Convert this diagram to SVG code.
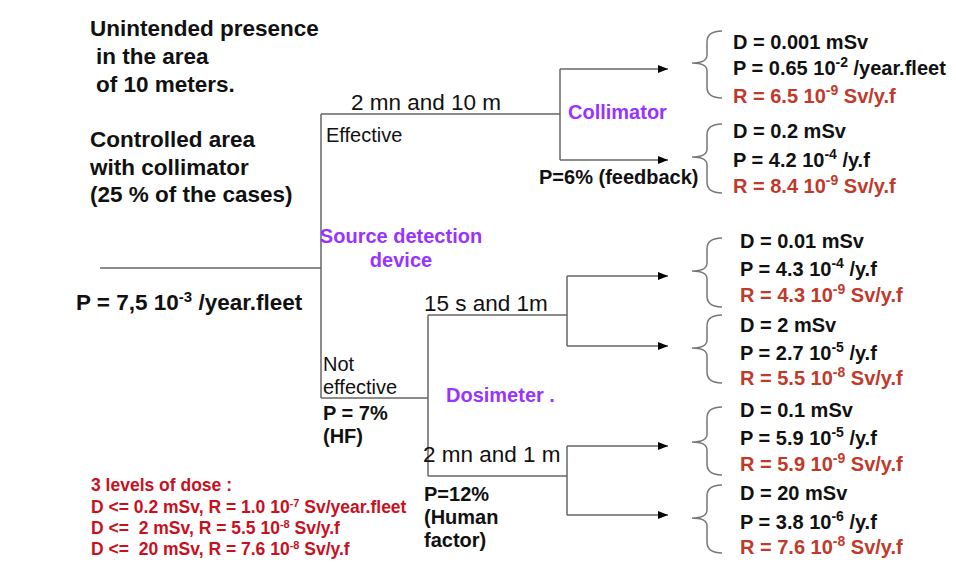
<svg xmlns="http://www.w3.org/2000/svg" width="956" height="563" viewBox="0 0 956 563">
<style>
text{font-family:"Liberation Sans",Arial,Helvetica,sans-serif;fill:#111}
.b{font-weight:bold}
.lg{font-size:22.5px}
.md{font-size:20px}
.sm{font-size:17.5px}
.red{fill:#C0392B}
.dred{fill:#C8101E}
.pur{fill:#9933FF}
.ln{stroke:#666;stroke-width:1.5;fill:none}
.br{stroke:#777;stroke-width:1.5;fill:none}
</style>
<defs>
<marker id="ah" viewBox="0 0 10 10" refX="10" refY="5" markerWidth="10" markerHeight="10" markerUnits="userSpaceOnUse" orient="auto">
<path d="M0,1 L10,5 L0,9 Z" fill="#000"/>
</marker>
</defs>
<rect width="956" height="563" fill="#fff"/>

<g id="connectors">
<path class="ln" d="M100,268 H321"/>
<path class="ln" d="M321,114 V398"/>
<path class="ln" d="M321,114 H560"/>
<path class="ln" d="M560,69 V160"/>
<path class="ln" d="M560,69 H668" marker-end="url(#ah)"/>
<path class="ln" d="M560,160 H668" marker-end="url(#ah)"/>
<path class="ln" d="M321,398 H428"/>
<path class="ln" d="M428,315 V476"/>
<path class="ln" d="M428,315 H567"/>
<path class="ln" d="M428,476 H567"/>
<path class="ln" d="M567,276 V346"/>
<path class="ln" d="M567,446 V515"/>
<path class="ln" d="M567,276 H668" marker-end="url(#ah)"/>
<path class="ln" d="M567,346 H668" marker-end="url(#ah)"/>
<path class="ln" d="M567,446 H668" marker-end="url(#ah)"/>
<path class="ln" d="M567,515 H668" marker-end="url(#ah)"/>
</g>

<g id="title">
<text class="b lg" x="90" y="36">Unintended presence</text>
<text class="b lg" x="96" y="64">in the area</text>
<text class="b lg" x="96" y="92">of 10 meters.</text>
</g>

<g id="scenario">
<text class="b lg" x="90" y="147">Controlled area</text>
<text class="b lg" x="90" y="175">with collimator</text>
<text class="b lg" x="90" y="202">(25 % of the cases)</text>
</g>

<g id="root">
<text class="b lg" x="76" y="310">P = 7,5 10<tspan font-size="15" dy="-8">-3</tspan><tspan dy="8"> /year.fleet</tspan></text>
</g>

<g id="source-detection">
<text class="b md pur" x="401" y="243" text-anchor="middle">Source detection</text>
<text class="b md pur" x="401" y="267" text-anchor="middle">device</text>
<text class="md" x="326" y="142">Effective</text>
<text class="lg" x="351" y="110">2 mn and 10 m</text>
<text class="md" x="323" y="371">Not</text>
<text class="md" x="323" y="394">effective</text>
<text class="b md" x="323" y="420">P = 7%</text>
<text class="b md" x="323" y="443">(HF)</text>
</g>

<g id="collimator">
<text class="b md pur" x="568" y="119">Collimator</text>
<text class="b md" x="539" y="184">P=6% (feedback)</text>
</g>

<g id="dosimeter">
<text class="b md pur" x="446" y="402">Dosimeter .</text>
<text class="lg" x="424" y="311">15 s and 1m</text>
<text class="lg" x="423" y="462">2 mn and 1 m</text>
<text class="b md" x="424" y="501">P=12%</text>
<text class="b md" x="424" y="524">(Human</text>
<text class="b md" x="424" y="547">factor)</text>
</g>

<g id="outcome1">
<path class="br" d="M722,31 Q707,31 707,42 V55 Q707,63 692,63 Q707,63 707,71 V87 Q707,98 722,98"/>
<text class="b md" x="733" y="49">D = 0.001 mSv</text>
<text class="b md" x="733" y="75">P = 0.65 10<tspan font-size="14" dy="-8">-2</tspan><tspan dy="8"> /year.fleet</tspan></text>
<text class="b md red" x="733" y="103">R = 6.5 10<tspan font-size="14" dy="-8">-9</tspan><tspan dy="8"> Sv/y.f</tspan></text>
</g>

<g id="outcome2">
<path class="br" d="M722,124 Q707,124 707,135 V149 Q707,157 692,157 Q707,157 707,165 V182 Q707,193 722,193"/>
<text class="b md" x="733" y="138">D = 0.2 mSv</text>
<text class="b md" x="733" y="167">P = 4.2 10<tspan font-size="14" dy="-8">-4</tspan><tspan dy="8"> /y.f</tspan></text>
<text class="b md red" x="733" y="193">R = 8.4 10<tspan font-size="14" dy="-8">-9</tspan><tspan dy="8"> Sv/y.f</tspan></text>
</g>

<g id="outcome3">
<path class="br" d="M722,238 Q707,238 707,249 V263 Q707,271 692,271 Q707,271 707,279 V296 Q707,307 722,307"/>
<text class="b md" x="740" y="248">D = 0.01 mSv</text>
<text class="b md" x="740" y="276">P = 4.3 10<tspan font-size="14" dy="-8">-4</tspan><tspan dy="8"> /y.f</tspan></text>
<text class="b md red" x="740" y="302">R = 4.3 10<tspan font-size="14" dy="-8">-9</tspan><tspan dy="8"> Sv/y.f</tspan></text>
</g>

<g id="outcome4">
<path class="br" d="M722,315 Q707,315 707,326 V340 Q707,348 692,348 Q707,348 707,356 V372 Q707,383 722,383"/>
<text class="b md" x="740" y="332">D = 2 mSv</text>
<text class="b md" x="740" y="360">P = 2.7 10<tspan font-size="14" dy="-8">-5</tspan><tspan dy="8"> /y.f</tspan></text>
<text class="b md red" x="740" y="385">R = 5.5 10<tspan font-size="14" dy="-8">-8</tspan><tspan dy="8"> Sv/y.f</tspan></text>
</g>

<g id="outcome5">
<path class="br" d="M722,407 Q707,407 707,418 V434 Q707,442 692,442 Q707,442 707,450 V464 Q707,475 722,475"/>
<text class="b md" x="740" y="417">D = 0.1 mSv</text>
<text class="b md" x="740" y="445">P = 5.9 10<tspan font-size="14" dy="-8">-5</tspan><tspan dy="8"> /y.f</tspan></text>
<text class="b md red" x="740" y="471">R = 5.9 10<tspan font-size="14" dy="-8">-9</tspan><tspan dy="8"> Sv/y.f</tspan></text>
</g>

<g id="outcome6">
<path class="br" d="M722,485 Q707,485 707,496 V510 Q707,518 692,518 Q707,518 707,526 V542 Q707,553 722,553"/>
<text class="b md" x="740" y="500">D = 20 mSv</text>
<text class="b md" x="740" y="529">P = 3.8 10<tspan font-size="14" dy="-8">-6</tspan><tspan dy="8"> /y.f</tspan></text>
<text class="b md red" x="740" y="554">R = 7.6 10<tspan font-size="14" dy="-8">-8</tspan><tspan dy="8"> Sv/y.f</tspan></text>
</g>

<g id="legend">
<text class="b sm dred" x="91" y="491">3 levels of dose :</text>
<text class="b sm dred" x="91" y="513">D &lt;= 0.2 mSv, R = 1.0 10<tspan font-size="11" dy="-6">-7</tspan><tspan dy="6"> Sv/year.fleet</tspan></text>
<text class="b sm dred" x="91" y="534" xml:space="preserve">D &lt;=  2 mSv, R = 5.5 10<tspan font-size="11" dy="-6">-8</tspan><tspan dy="6"> Sv/y.f</tspan></text>
<text class="b sm dred" x="91" y="555" xml:space="preserve">D &lt;=  20 mSv, R = 7.6 10<tspan font-size="11" dy="-6">-8</tspan><tspan dy="6"> Sv/y.f</tspan></text>
</g>
</svg>
